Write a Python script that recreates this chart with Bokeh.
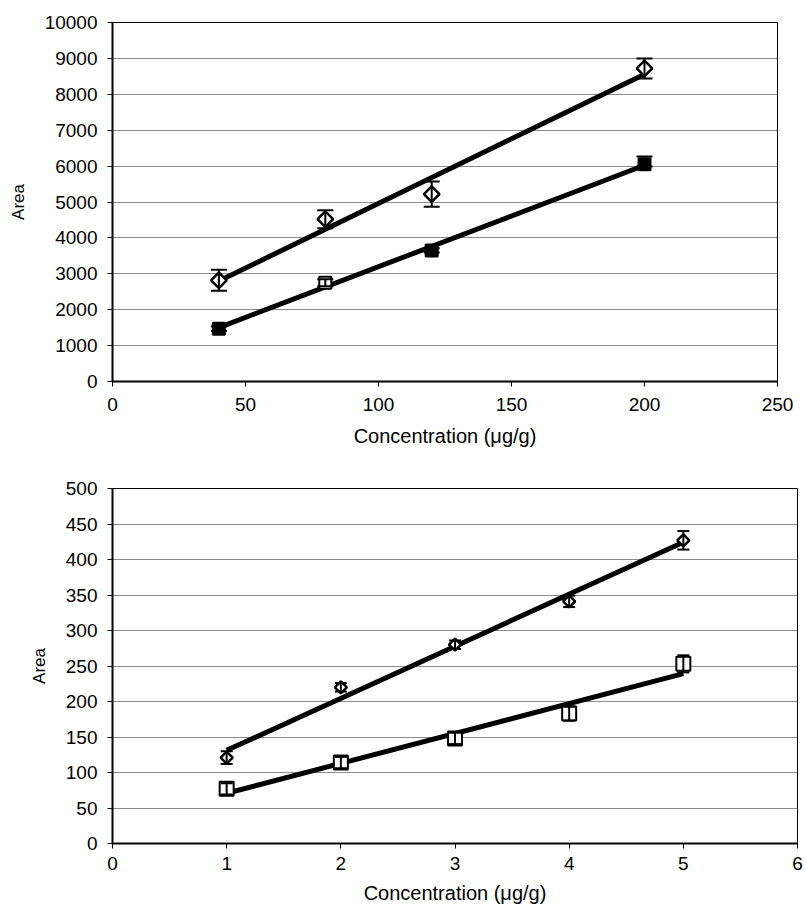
import numpy as np
from bokeh.plotting import figure
from bokeh.models import ColumnDataSource, Whisker, TeeHead, Range1d, FixedTicker
from bokeh.embed import file_html
from bokeh.resources import INLINE

# ---------------- data: top chart ----------------
top_x = [40, 80, 120, 200]
top_diamond = [2820, 4520, 5220, 8720]
top_diamond_err_lo = [290, 250, 350, 280]
top_diamond_err_hi = [290, 250, 350, 280]
top_square = [1470, 2750, 3650, 6050]
top_square_err_lo = [60, 100, 60, 60]
top_square_err_hi = [60, 100, 60, 220]
top_square_fill = ["black", "white", "black", "black"]
top_xticks = [0, 50, 100, 150, 200, 250]
top_yticks = [0, 1000, 2000, 3000, 4000, 5000, 6000, 7000, 8000, 9000, 10000]

# ---------------- data: bottom chart ----------------
bot_x = [1, 2, 3, 4, 5]
bot_diamond = [121, 220, 280, 341, 427]
bot_diamond_err_lo = [9, 6, 6, 8, 13]
bot_diamond_err_hi = [9, 6, 6, 8, 13]
bot_square = [77, 114, 148, 183, 253]
bot_square_err_lo = [8, 8, 8, 10, 12]
bot_square_err_hi = [8, 8, 8, 10, 12]
bot_square_fill = ["white", "white", "white", "white", "white"]
bot_xticks = [0, 1, 2, 3, 4, 5, 6]
bot_yticks = [0, 50, 100, 150, 200, 250, 300, 350, 400, 450, 500]

FONT = "Liberation Sans"


def style(p, xticks, yticks, xstand, xlabstand):
    p.xaxis.ticker = FixedTicker(ticks=xticks)
    p.yaxis.ticker = FixedTicker(ticks=yticks)
    for ax in (p.xaxis[0], p.yaxis[0]):
        ax.axis_line_color = "black"
        ax.axis_line_width = 2
        ax.major_tick_line_color = "black"
        ax.major_tick_line_width = 1
        ax.major_tick_out = 5
        ax.major_tick_in = 0
        ax.minor_tick_line_color = None
        ax.major_label_text_font = FONT
        ax.major_label_text_font_size = "19px"
        ax.major_label_text_color = "black"
        ax.axis_label_text_font = FONT
        ax.axis_label_text_font_style = "normal"
        ax.axis_label_text_color = "black"
    p.xaxis.major_label_standoff = xstand
    p.yaxis.major_label_standoff = 10
    p.xaxis.axis_label_text_font_size = "20px"
    p.yaxis.axis_label_text_font_size = "17px"
    p.xaxis.axis_label_standoff = xlabstand
    p.yaxis.axis_label_standoff = 14
    p.xgrid.visible = False
    p.ygrid.grid_line_color = "#8c8c8c"
    p.ygrid.grid_line_width = 1
    p.outline_line_color = "black"
    p.outline_line_width = 1
    p.background_fill_color = "white"
    p.border_fill_color = "white"


def draw(p, x, yd, edl, edh, ys, esl, esh, dsize, ssize, sfill, head):
    x = np.array(x, dtype=float)
    for y in (yd, ys):
        k, b = np.polyfit(x, np.array(y, dtype=float), 1)
        xs = [x.min(), x.max()]
        p.line(xs, [k * v + b for v in xs], line_color="black", line_width=5)
    for y, el, eh in ((yd, edl, edh), (ys, esl, esh)):
        y = np.array(y, dtype=float)
        src = ColumnDataSource(dict(x=x, lo=y - np.array(el), hi=y + np.array(eh)))
        w = Whisker(source=src, base="x", lower="lo", upper="hi",
                    line_color="black", line_width=2, level="glyph",
                    upper_head=TeeHead(size=head, line_width=2, line_color="black"),
                    lower_head=TeeHead(size=head, line_width=2, line_color="black"))
        p.add_layout(w)
    p.scatter(x, yd, marker="square", angle=np.pi / 4, size=dsize, fill_color="white",
              line_color="black", line_width=2.5)
    p.scatter(x, ys, marker="square", size=ssize, fill_color=sfill,
              line_color="black", line_width=2)


# ---------------- top figure ----------------
p1 = figure(width=804, height=450, output_backend="svg", toolbar_location=None,
            x_range=Range1d(0, 250), y_range=Range1d(0, 10000),
            min_border_left=112, min_border_right=27, min_border_top=22, min_border_bottom=69,
            x_axis_label="Concentration (μg/g)", y_axis_label="Area")
style(p1, top_xticks, top_yticks, 11, 11)
draw(p1, top_x, top_diamond, top_diamond_err_lo, top_diamond_err_hi,
     top_square, top_square_err_lo, top_square_err_hi, 11, 12, top_square_fill, 16)

# ---------------- bottom figure ----------------
p2 = figure(width=804, height=456, output_backend="svg", toolbar_location=None,
            x_range=Range1d(0, 6), y_range=Range1d(0, 500),
            min_border_left=112, min_border_right=7, min_border_top=38, min_border_bottom=62,
            x_axis_label="Concentration (μg/g)", y_axis_label="Area")
style(p2, bot_xticks, bot_yticks, 8, 9)
draw(p2, bot_x, bot_diamond, bot_diamond_err_lo, bot_diamond_err_hi,
     bot_square, bot_square_err_lo, bot_square_err_hi, 8.5, 14, bot_square_fill, 12)

open("out.html", "w").write(file_html([p1, p2], INLINE))
